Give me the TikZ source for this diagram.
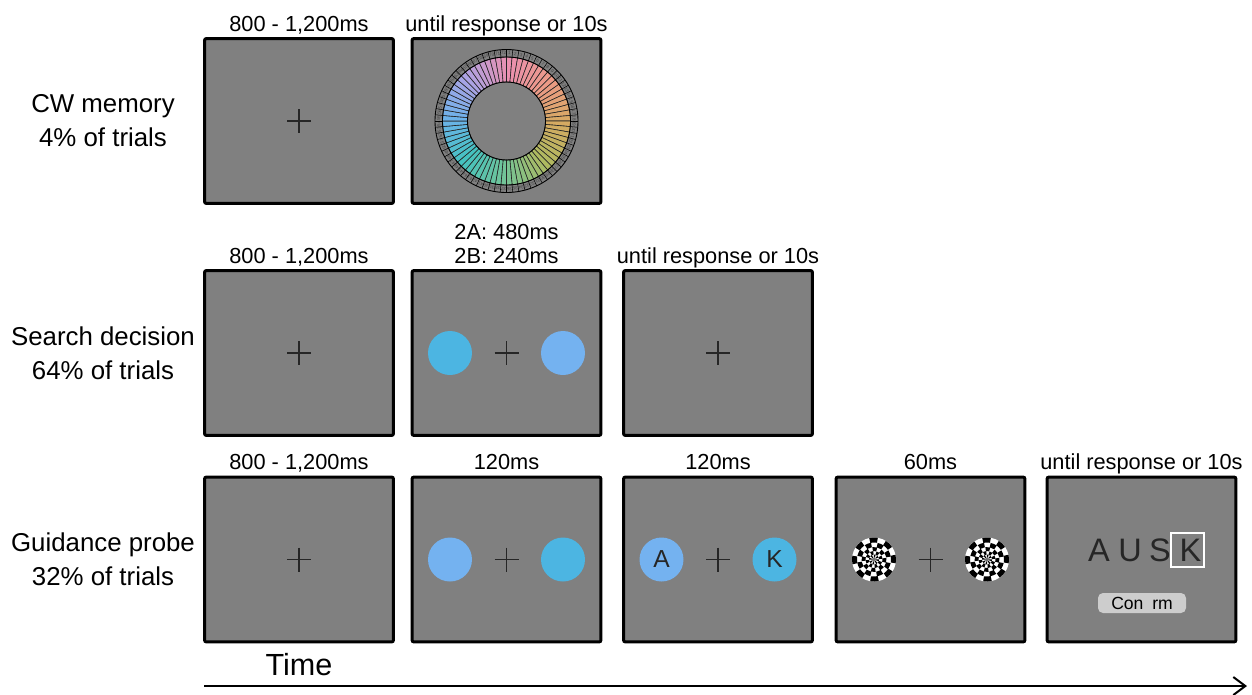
\documentclass[tikz,border=0pt]{standalone}
\usepackage{fontspec}
\setmainfont{Liberation Sans}
\usetikzlibrary{calc,arrows.meta}

\definecolor{screengray}{HTML}{808080}
\definecolor{fixgray}{HTML}{262626}
\definecolor{cyanblue}{HTML}{4CB5E2}
\definecolor{skyblue}{HTML}{74B2F0}
\definecolor{lettergray}{HTML}{262626}
\definecolor{buttongray}{HTML}{CDCDCD}
% wheel hues, clockwise from the top
\definecolor{w0}{HTML}{EB90B0}
\definecolor{w1}{HTML}{EC9A86}
\definecolor{w2}{HTML}{D6AA62}
\definecolor{w3}{HTML}{AEBA60}
\definecolor{w4}{HTML}{72C498}
\definecolor{w5}{HTML}{44C2C0}
\definecolor{w6}{HTML}{6CB2EA}
\definecolor{w7}{HTML}{ACA2E4}
\definecolor{w8}{HTML}{EB90B0}

\tikzset{
  screen/.style={draw=black, fill=screengray, line width=0.06cm, rounded corners=0.04cm,
    minimum width=3.78cm, minimum height=3.3cm, inner sep=0pt},
  dur/.style={anchor=base, inner sep=0pt, font=\fontsize{12.4}{15}\selectfont},
  cond/.style={align=center, inner sep=0pt, font=\fontsize{14.7}{19.3}\selectfont},
  fixline/.style={draw=fixgray, line width=0.026cm},
  stim/.style={circle, minimum size=0.88cm, inner sep=0pt, text=lettergray,
    font=\fontsize{14}{14}\selectfont},
  lettr/.style={anchor=base, inner sep=0pt, text=lettergray, font=\fontsize{18.5}{20}\selectfont},
  wheelnum/.style={inner sep=0pt, text=black!75, font=\fontsize{2.6}{3}\selectfont},
  timeline/.style={line width=0.04cm, -{Straight Barb[length=0.24cm,width=0.36cm]}},
}

% fixation cross at a node centre
\newcommand{\fixcross}[1]{\draw[fixline] ($(#1)+(-12,0)$) -- ($(#1)+(12,0)$) ($(#1)+(0,-12)$) -- ($(#1)+(0,12)$);}

% radial checkerboard mask
\newcommand{\checkdisc}[1]{%
  \begin{scope}[shift={(#1)}, y=0.02cm]
    \fill[white] (0,0) circle (22);
    \foreach \ri/\ro [count=\j] in {2/5,5/8.5,8.5/12.5,12.5/17,17/22}{
      \foreach \k in {0,2,...,14}{
        \pgfmathsetmacro{\sa}{\k*22.5+\j*25}
        \pgfmathsetmacro{\sb}{\sa+22.5}
        \fill[black] (\sa:\ri) arc (\sa:\sb:\ri) -- (\sb:\ro) arc (\sb:\sa:\ro) -- cycle;
      }
    }
    \fill[black!55] (0,0) circle (2);
  \end{scope}}

\begin{document}
\begin{tikzpicture}[x=0.02cm, y=-0.02cm]
  \useasboundingbox (0,0) rectangle (1252,694);

  %%%%% row 1: CW memory %%%%%
  \node[cond] (cwlbl) at (103,121) {CW memory\\4\% of trials};
  \node[screen] (cw1) at (299,121) {};
  \node[screen] (cw2) at (506.5,121) {};
  \node[dur] (tcw1) at ($(cw1.north)+(0,-6)$) {800 - 1,200ms};
  \node[dur] (tcw2) at ($(cw2.north)+(0,-6)$) {until response or 10s};
  \fixcross{cw1.center}

  % colour wheel with numbered ring
  \begin{scope}[shift={(cw2.center)}, y=0.02cm]
    \foreach \i in {0,...,71}{
      \pgfmathtruncatemacro{\k}{div(\i,9)}
      \pgfmathtruncatemacro{\kk}{\k+1}
      \pgfmathtruncatemacro{\p}{100-100*mod(\i,9)/9}
      \pgfmathtruncatemacro{\n}{\i+1}
      \pgfmathsetmacro{\aa}{90-5*\i}
      \pgfmathsetmacro{\ab}{\aa-5}
      \pgfmathsetmacro{\am}{\aa-2.5}
      \filldraw[fill=w\k!\p!w\kk, draw=black!85, line width=0.35pt] (\aa:39) arc (\aa:\ab:39) -- (\ab:64) arc (\ab:\aa:64) -- cycle;
      \draw[line width=0.3pt] (\aa:64) -- (\aa:71.5);
      \node[wheelnum, rotate=\am-90] (n\n) at (\am:67.8) {\n};
    }
    \draw[line width=0.5pt] (0,0) circle (39) circle (64) circle (71.5);
  \end{scope}

  %%%%% row 2: search decision %%%%%
  \node[cond] (sdlbl) at (103,353) {Search decision\\64\% of trials};
  \node[screen] (sd1) at (299,353) {};
  \node[screen] (sd2) at (506.5,353) {};
  \node[screen] (sd3) at (718,353) {};
  \node[dur] (tsd1) at ($(sd1.north)+(0,-6)$) {800 - 1,200ms};
  \node[dur] (tsd2b) at ($(sd2.north)+(0,-6)$) {2B: 240ms};
  \node[dur] (tsd2a) at ($(sd2.north)+(0,-30)$) {2A: 480ms};
  \node[dur] (tsd3) at ($(sd3.north)+(0,-6)$) {until response or 10s};
  \fixcross{sd1.center}
  \fixcross{sd2.center}
  \fixcross{sd3.center}
  \node[stim, fill=cyanblue] (sdl) at ($(sd2.center)+(-56.5,0)$) {};
  \node[stim, fill=skyblue] (sdr) at ($(sd2.center)+(56.5,0)$) {};

  %%%%% row 3: guidance probe %%%%%
  \node[cond] (gplbl) at (103,559.5) {Guidance probe\\32\% of trials};
  \node[screen] (gp1) at (299,559.5) {};
  \node[screen] (gp2) at (506.5,559.5) {};
  \node[screen] (gp3) at (718,559.5) {};
  \node[screen] (gp4) at (930.5,559.5) {};
  \node[screen] (gp5) at (1141.5,559.5) {};
  \node[dur] (tgp1) at ($(gp1.north)+(0,-6)$) {800 - 1,200ms};
  \node[dur] (tgp2) at ($(gp2.north)+(0,-6)$) {120ms};
  \node[dur] (tgp3) at ($(gp3.north)+(0,-6)$) {120ms};
  \node[dur] (tgp4) at ($(gp4.north)+(0,-6)$) {60ms};
  \node[dur] (tgp5) at ($(gp5.north)+(0,-6)$) {until response or 10s};
  \fixcross{gp1.center}
  \fixcross{gp2.center}
  \fixcross{gp3.center}
  \fixcross{gp4.center}
  \node[stim, fill=skyblue] (gp2l) at ($(gp2.center)+(-56.5,0)$) {};
  \node[stim, fill=cyanblue] (gp2r) at ($(gp2.center)+(56.5,0)$) {};
  \node[stim, fill=skyblue] (gp3l) at ($(gp3.center)+(-56.5,0)$) {A};
  \node[stim, fill=cyanblue] (gp3r) at ($(gp3.center)+(56.5,0)$) {K};
  \checkdisc{$(gp4.center)+(-56.5,0)$}
  \checkdisc{$(gp4.center)+(56.5,0)$}

  % letter report screen
  \node[lettr] (ausa) at (1099,561) {A};
  \node[lettr] (ausu) at (1130,561) {U};
  \node[lettr] (auss) at (1160,561) {S};
  \node[lettr] (ausk) at (1190.5,561) {K};
  \node[draw=white, line width=0.026cm, minimum width=0.66cm, minimum height=0.68cm, inner sep=0pt] (kbox) at (1187.5,550) {};
  \node[fill=buttongray, rounded corners=0.1cm, minimum width=1.76cm, minimum height=0.4cm,
    inner sep=0pt, font=\fontsize{10}{10}\selectfont] (confirm) at (1142,603) {Con\hspace{0.5em}rm};

  %%%%% time axis %%%%%
  \node[font=\fontsize{17.4}{20}\selectfont, inner sep=0pt] (timelbl) at (299,665) {Time};
  \coordinate (tstart) at (204,686);
  \coordinate (tend) at (1247,686);
  \draw[timeline] (tstart) -- (tend);
\end{tikzpicture}
\end{document}
